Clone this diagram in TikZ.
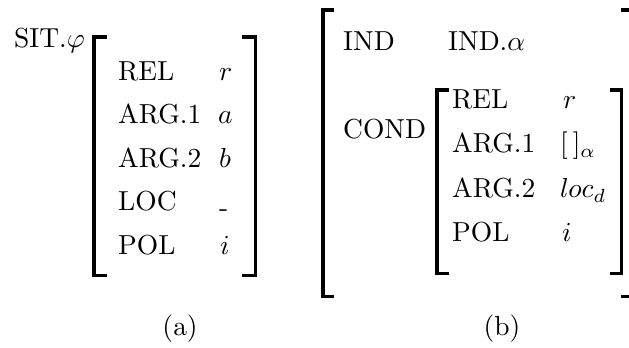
\documentclass[tikz,border=0pt]{standalone}
\font\rmf=cmr10 at 27.5bp
\font\mif=cmmi10 at 27.5bp
\font\mis=cmmi7 at 19bp
\newcommand\myphi{{\mif\char"27}}
\newcommand\myalpha{{\mif\char"0B}}
\newcommand\mysalpha{{\mis\char"0B}}
\newcommand\mysd{{\mis d}}
\tikzset{
  txt/.style={inner sep=0pt, anchor=base west, font=\rmf},
  captxt/.style={inner sep=0pt, anchor=base, font=\rmf},
  brk/.style={line width=3.5bp, line join=miter, line cap=butt}
}
\begin{document}
\begin{tikzpicture}[x=1bp,y=-1bp]
\useasboundingbox (0,0) rectangle (629,347);
\clip (0,0) rectangle (629,347);
% ---------- (a)
\node[txt] (sit) at (14,47) {SIT.\myphi};
\draw[brk] (107,36.75) -- (93.75,36.75) -- (93.75,275.25) -- (107,275.25);
\draw[brk] (242,36.75) -- (255.25,36.75) -- (255.25,275.25) -- (242,275.25);
\node[txt] (arel) at (118,80) {REL};
\node[txt] (aarg1) at (118,123.5) {ARG.1};
\node[txt] (aarg2) at (118,167) {ARG.2};
\node[txt] (aloc) at (118,210.5) {LOC};
\node[txt] (apol) at (118,254) {POL};
\node[txt] (arelv) at (219,80) {{\mif r}};
\node[txt] (aarg1v) at (218,123.5) {{\mif a}};
\node[txt] (aarg2v) at (219,167) {{\mif b}};
\node[txt] (alocv) at (219,210.5) {\raisebox{-0.2em}{-}};
\node[txt] (apolv) at (220,254) {{\mif i}};
\node[captxt] (capa) at (180,335) {(a)};
% ---------- (b)
\draw[brk] (334,9.75) -- (322.75,9.75) -- (322.75,296.25) -- (334,296.25);
\draw[brk] (621,9.75) -- (633,9.75) -- (633,296.25) -- (621,296.25);
\node[txt] (bind) at (343,50) {IND};
\node[txt] (bindv) at (448,50) {IND.\myalpha};
\node[txt] (bcond) at (343,138) {COND};
\draw[brk] (449,89.75) -- (436.75,89.75) -- (436.75,273.25) -- (449,273.25);
\draw[brk] (610,89.75) -- (621.25,89.75) -- (621.25,273.25) -- (610,273.25);
\node[txt] (brel) at (452,108) {REL};
\node[txt] (barg1) at (452,152) {ARG.1};
\node[txt] (barg2) at (452,197) {ARG.2};
\node[txt] (bpol) at (452,241) {POL};
\node[txt] (brelv) at (563,108) {{\mif r}};
\node[txt] (barg1v) at (560,152) {[\kern5bp]\raisebox{-0.2em}{\mysalpha}};
\node[txt] (barg2v) at (560,197) {{\mif loc}\raisebox{-0.2em}{\mysd}};
\node[txt] (bpolv) at (562,241) {{\mif i}};
\node[captxt] (capb) at (502,335) {(b)};
\end{tikzpicture}
\end{document}
